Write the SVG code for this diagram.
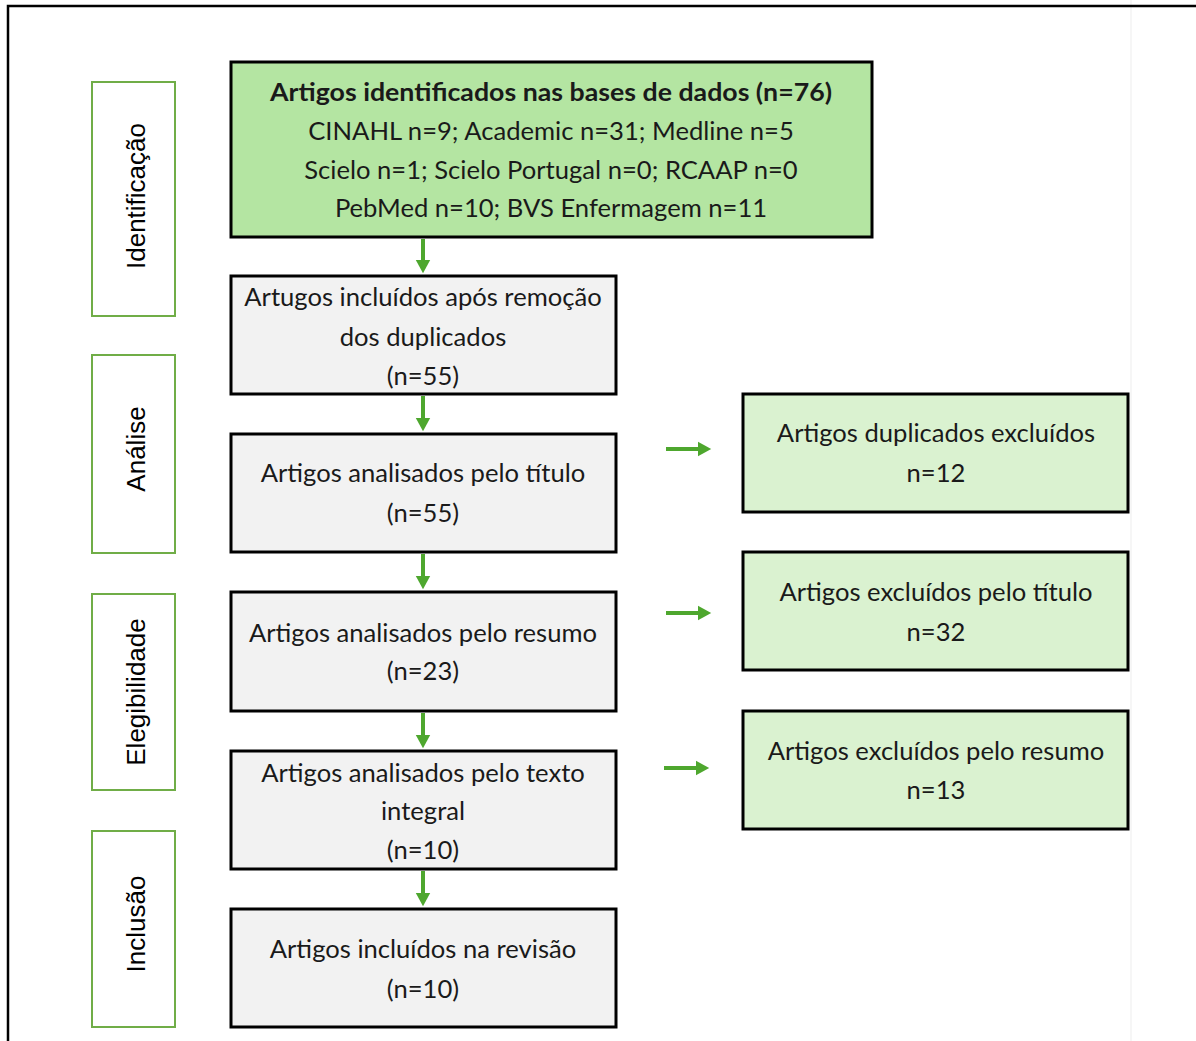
<svg xmlns="http://www.w3.org/2000/svg" width="1196" height="1041" viewBox="0 0 1196 1041">
<style>
.stage{fill:#fff;stroke:#70AD47;stroke-width:2}
.stxt{font-family:"Liberation Sans",Arial,sans-serif;font-size:26px;fill:#000;text-anchor:middle}
.box{stroke:#000;stroke-width:3}
.g1{fill:#B4E5A2}
.g2{fill:#DAF2D0}
.gr{fill:#F2F2F2}
.t{font-family:Lato,"Open Sans",sans-serif;font-size:25.6px;fill:#1a1a1a;text-anchor:middle}
.b{font-weight:bold}
.arr{stroke:#4EA72E;stroke-width:4;fill:none}
</style>
<defs>
<marker id="ah" markerWidth="4" markerHeight="4" refX="1" refY="2" orient="auto" markerUnits="strokeWidth">
<path d="M0,0.2 L3.3,2 L0,3.8 Z" fill="#4EA72E"/>
</marker>
</defs>
<rect x="0" y="0" width="1196" height="1041" fill="#fff"/>
<line x1="1131" y1="0" x2="1131" y2="1041" stroke="#f3f3f3" stroke-width="1.5"/>
<rect x="8" y="6" width="1200" height="1060" fill="none" stroke="#000" stroke-width="2.5"/>

<g id="stage-identificacao">
<rect class="stage" x="92" y="82" width="83" height="234"/>
<text class="stxt" transform="translate(145,196) rotate(-90)">Identificação</text>
</g>
<g id="stage-analise">
<rect class="stage" x="92" y="355" width="83" height="198"/>
<text class="stxt" transform="translate(145,449) rotate(-90)">Análise</text>
</g>
<g id="stage-elegibilidade">
<rect class="stage" x="92" y="594" width="83" height="196"/>
<text class="stxt" transform="translate(145,692) rotate(-90)">Elegibilidade</text>
</g>
<g id="stage-inclusao">
<rect class="stage" x="92" y="831" width="83" height="196"/>
<text class="stxt" transform="translate(145,924) rotate(-90)">Inclusão</text>
</g>

<g id="n1">
<rect class="box g1" x="231" y="62" width="641" height="175"/>
<text class="t b" x="551" y="101" textLength="562" lengthAdjust="spacingAndGlyphs">Artigos identificados nas bases de dados (n=76)</text>
<text class="t" x="551" y="140">CINAHL n=9; Academic n=31; Medline n=5</text>
<text class="t" x="551" y="179">Scielo n=1; Scielo Portugal n=0; RCAAP n=0</text>
<text class="t" x="551" y="217">PebMed n=10; BVS Enfermagem n=11</text>
</g>
<g id="n2">
<rect class="box gr" x="231" y="276" width="385" height="118"/>
<text class="t" x="423" y="306">Artugos incluídos após remoção</text>
<text class="t" x="423" y="346">dos duplicados</text>
<text class="t" x="423" y="385">(n=55)</text>
</g>
<g id="n3">
<rect class="box gr" x="231" y="434" width="385" height="118"/>
<text class="t" x="423" y="482">Artigos analisados pelo título</text>
<text class="t" x="423" y="522">(n=55)</text>
</g>
<g id="n4">
<rect class="box gr" x="231" y="592" width="385" height="119"/>
<text class="t" x="423" y="642">Artigos analisados pelo resumo</text>
<text class="t" x="423" y="680">(n=23)</text>
</g>
<g id="n5">
<rect class="box gr" x="231" y="751" width="385" height="118"/>
<text class="t" x="423" y="782">Artigos analisados pelo texto</text>
<text class="t" x="423" y="820">integral</text>
<text class="t" x="423" y="859">(n=10)</text>
</g>
<g id="n6">
<rect class="box gr" x="231" y="909" width="385" height="118"/>
<text class="t" x="423" y="958">Artigos incluídos na revisão</text>
<text class="t" x="423" y="998">(n=10)</text>
</g>
<g id="r1">
<rect class="box g2" x="743" y="394" width="385" height="118"/>
<text class="t" x="936" y="442">Artigos duplicados excluídos</text>
<text class="t" x="936" y="482">n=12</text>
</g>
<g id="r2">
<rect class="box g2" x="743" y="552" width="385" height="118"/>
<text class="t" x="936" y="601">Artigos excluídos pelo título</text>
<text class="t" x="936" y="641">n=32</text>
</g>
<g id="r3">
<rect class="box g2" x="743" y="711" width="385" height="118"/>
<text class="t" x="936" y="760">Artigos excluídos pelo resumo</text>
<text class="t" x="936" y="799">n=13</text>
</g>

<g id="connectors">
<line class="arr" x1="423" y1="239" x2="423" y2="264" marker-end="url(#ah)"/>
<line class="arr" x1="423" y1="396" x2="423" y2="422" marker-end="url(#ah)"/>
<line class="arr" x1="423" y1="554" x2="423" y2="580" marker-end="url(#ah)"/>
<line class="arr" x1="423" y1="713" x2="423" y2="739" marker-end="url(#ah)"/>
<line class="arr" x1="423" y1="871" x2="423" y2="897" marker-end="url(#ah)"/>
<line class="arr" x1="666" y1="449" x2="702" y2="449" marker-end="url(#ah)"/>
<line class="arr" x1="666" y1="613" x2="702" y2="613" marker-end="url(#ah)"/>
<line class="arr" x1="664" y1="768" x2="700" y2="768" marker-end="url(#ah)"/>
</g>
</svg>
